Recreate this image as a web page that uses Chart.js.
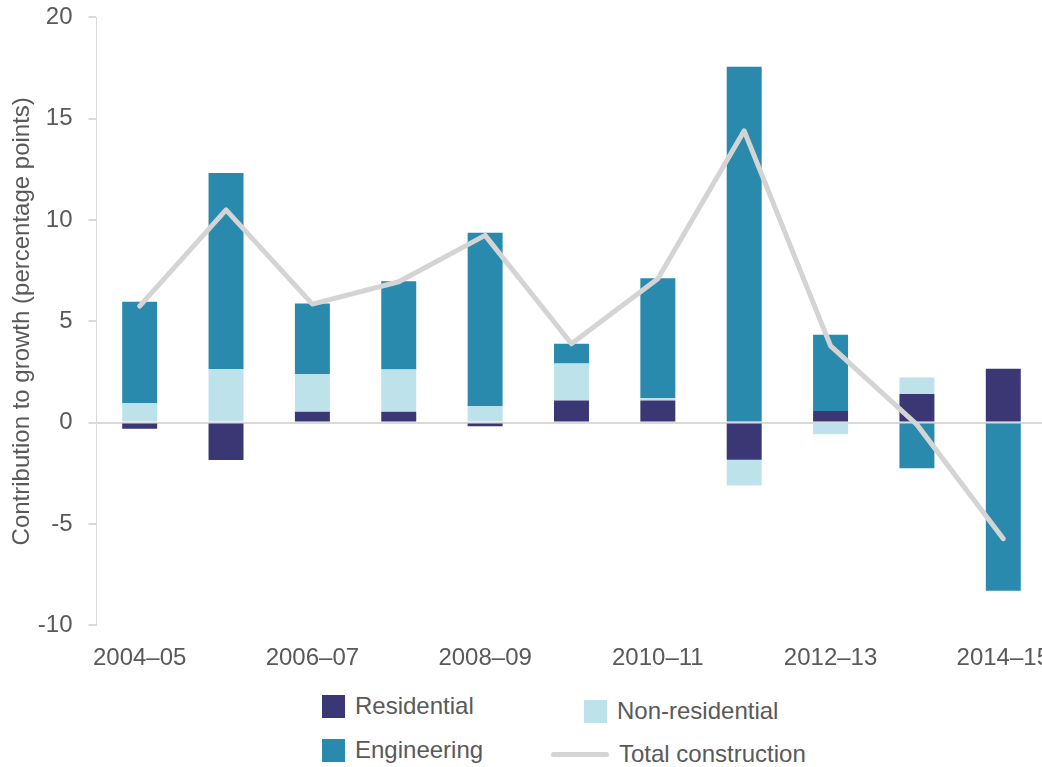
<!DOCTYPE html>
<html>
<head>
<meta charset="utf-8">
<script src="https://cdn.jsdelivr.net/npm/chart.js@4.4.1/dist/chart.umd.min.js"></script>
<style>
  html, body { margin: 0; padding: 0; background: #fff; overflow: hidden; }
  #wrap { position: relative; width: 1061px; height: 767px; }
  #chart { position: absolute; left: 0; top: -13px; }
  #legend { position: absolute; left: 0; top: 0; font-family: "Liberation Sans", Arial, sans-serif; font-size: 24px; color: #595959; }
  .item { position: absolute; display: flex; align-items: center; white-space: nowrap; }
  .sw { width: 23px; height: 23px; margin-right: 10px; }
  .ln { width: 58px; height: 5px; border-radius: 3px; margin-right: 10px; }
</style>
</head>
<body>
<div id="wrap">
  <canvas id="chart" width="1061" height="703"></canvas>
  <div id="legend"></div>
</div>
<script>
// ================= DATA =================
const years = ["2004–05", "2005–06", "2006–07", "2007–08", "2008–09", "2009–10",
               "2010–11", "2011–12", "2012–13", "2013–14", "2014–15"];

const residential    = [-0.3, -1.85, 0.54, 0.54, -0.18, 1.09, 1.09, -1.83, 0.57, 1.41, 2.66];
const nonResidential = [0.97, 2.65, 1.85, 2.08, 0.81, 1.83, 0.13, -1.28, -0.57, 0.82, 0.0];
const engineering    = [5.0, 9.67, 3.49, 4.36, 8.56, 0.97, 5.9, 17.56, 3.77, -2.25, -8.3];
const totalConstruction = [5.75, 10.5, 5.85, 6.95, 9.24, 3.89, 7.1, 14.4, 3.79, -0.1, -5.73];

const yTicks = { min: -10, max: 20, step: 5 };

const colors = {
  residential: "#3a3774",
  nonResidential: "#bee2ea",
  engineering: "#2a8aad",
  total: "#d4d4d4"
};

const TEXT = "#595959";
const FONT = "'Liberation Sans', Arial, sans-serif";

// ================= CHART =================
const ctx = document.getElementById("chart").getContext("2d");

const chart = new Chart(ctx, {
  type: "bar",
  data: {
    labels: years,
    datasets: [
      {
        type: "line",
        label: "Total construction",
        data: totalConstruction,
        borderColor: colors.total,
        backgroundColor: colors.total,
        borderWidth: 5,
        pointRadius: 0,
        tension: 0,
        borderCapStyle: "round",
        borderJoinStyle: "round",
        order: 0
      },
      { label: "Residential", data: residential, backgroundColor: colors.residential, stack: "s", order: 1 },
      { label: "Non-residential", data: nonResidential, backgroundColor: colors.nonResidential, stack: "s", order: 1 },
      { label: "Engineering", data: engineering, backgroundColor: colors.engineering, stack: "s", order: 1 }
    ]
  },
  options: {
    responsive: false,
    animation: false,
    layout: { padding: { top: 0, bottom: 6, left: 8, right: 0 } },
    plugins: {
      legend: { display: false },
      tooltip: { enabled: false }
    },
    datasets: {
      bar: { categoryPercentage: 1, barPercentage: 0.405 }
    },
    scales: {
      x: {
        stacked: true,
        grid: { display: false },
        border: { display: false },
        ticks: {
          autoSkip: false,
          maxRotation: 0,
          padding: 11,
          color: TEXT,
          font: { family: FONT, size: 24 },
          callback: function (v, i) { return i % 2 === 0 ? this.getLabelForValue(v) : ""; }
        }
      },
      y: {
        stacked: true,
        min: yTicks.min,
        max: yTicks.max,
        ticks: {
          stepSize: yTicks.step,
          padding: 16,
          color: TEXT,
          font: { family: FONT, size: 24 }
        },
        grid: {
          color: c => (c.tick && c.tick.value === 0 ? "#d9d9d9" : "transparent"),
          tickColor: "#d9d9d9",
          tickLength: 8,
          lineWidth: 2
        },
        border: { display: true, color: "#d9d9d9", width: 1 },
        title: {
          display: true,
          text: "Contribution to growth (percentage points)",
          color: TEXT,
          font: { family: FONT, size: 24 },
          padding: { top: 0, bottom: -15 }
        }
      }
    }
  }
});

// ================= LEGEND =================
const legendItems = [
  { label: "Residential", color: colors.residential, kind: "box", x: 322, y: 706 },
  { label: "Non-residential", color: colors.nonResidential, kind: "box", x: 584, y: 711 },
  { label: "Engineering", color: colors.engineering, kind: "box", x: 322, y: 750 },
  { label: "Total construction", color: colors.total, kind: "line", x: 551, y: 754 }
];

const legend = document.getElementById("legend");
legendItems.forEach(it => {
  const d = document.createElement("div");
  d.className = "item";
  d.style.left = it.x + "px";
  d.style.top = (it.y - 15) + "px";
  d.style.height = "30px";
  const m = document.createElement("span");
  m.className = it.kind === "box" ? "sw" : "ln";
  m.style.background = it.color;
  d.appendChild(m);
  d.appendChild(document.createTextNode(it.label));
  legend.appendChild(d);
});
</script>
</body>
</html>
